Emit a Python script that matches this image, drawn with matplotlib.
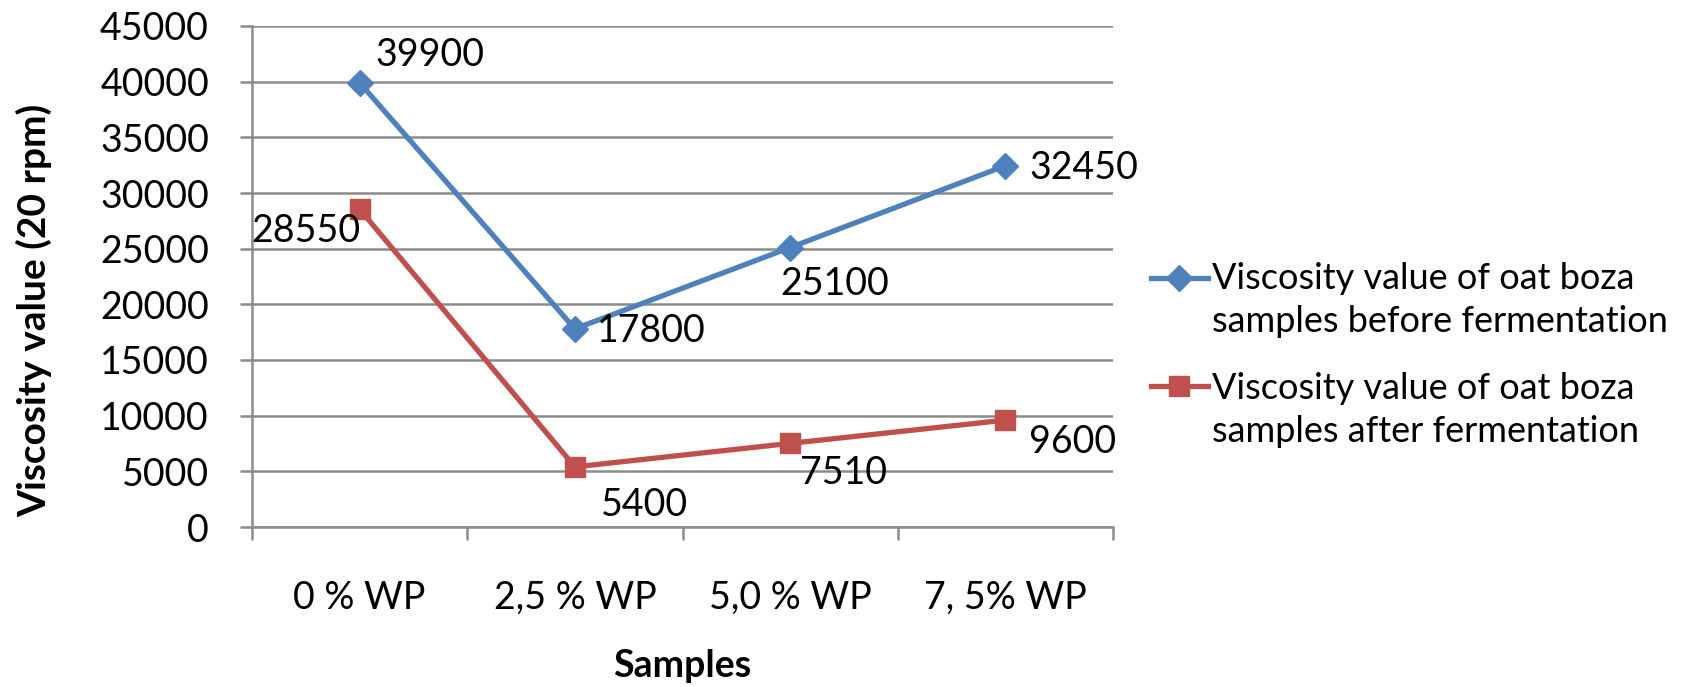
import numpy as np
import matplotlib
matplotlib.use("Agg")
import matplotlib.pyplot as plt
from matplotlib.lines import Line2D

plt.rcParams['font.family'] = ['Lato', 'DejaVu Sans']

samples = ['0 % WP', '2,5 % WP', '5,0 % WP', '7, 5% WP']
before = [39900, 17800, 25100, 32450]
after = [28550, 5400, 7510, 9600]
labels = ['Viscosity value of oat boza\nsamples before fermentation',
          'Viscosity value of oat boza\nsamples after fermentation']

blue = '#4F81BD'
red = '#C0504D'
grid_c = '#8C8C8C'

# label offsets in pixels (dx, dy) and alignment per point
before_off = [(16, 28, 'left'), (22, -2, 'left'), (-10, -36, 'left'), (24, -2, 'left')]
after_off = [(1, -22, 'right'), (26, -38, 'left'), (10, -30, 'left'), (24, -22, 'left')]

W, H = 1694, 687
fig = plt.figure(figsize=(W / 100, H / 100), dpi=100)
ax = fig.add_axes([252 / W, 1 - 527 / H, (1113 - 252) / W, (527 - 26) / H])

lw = 3.8
x = np.arange(len(samples))
ax.plot(x, before, color=blue, lw=lw, marker='D', ms=13, zorder=3)
ax.plot(x, after, color=red, lw=lw, marker='s', ms=14, zorder=3)

fs = 27
for xi, v, (dx, dy, ha) in zip(x, before, before_off):
    ax.annotate(str(v), (xi, v), xytext=(dx, dy), textcoords='offset pixels',
                ha=ha, va='center', fontsize=fs)
for xi, v, (dx, dy, ha) in zip(x, after, after_off):
    ax.annotate(str(v), (xi, v), xytext=(dx, dy), textcoords='offset pixels',
                ha=ha, va='center', fontsize=fs)

ax.set_xlim(-0.5, len(samples) - 0.5)
ax.set_ylim(0, 45000)
ax.set_yticks(np.arange(0, 45001, 5000))
ax.yaxis.grid(True, color=grid_c, lw=1.8)
ax.set_axisbelow(True)

ax.set_xticks(x)
ax.set_xticklabels(samples, fontsize=fs)
ax.set_xticks(np.arange(-0.5, len(samples), 1), minor=True)
ax.tick_params(axis='x', which='major', length=0, pad=38)
ax.tick_params(axis='x', which='minor', length=9, width=1.8, color=grid_c, direction='out')
ax.tick_params(axis='y', length=9, width=1.8, color=grid_c, direction='out', pad=22, labelsize=fs)

for s in ['top', 'right']:
    ax.spines[s].set_visible(False)
for s in ['left', 'bottom']:
    ax.spines[s].set_color(grid_c)
    ax.spines[s].set_linewidth(1.8)

ax.set_ylabel('Viscosity value (20 rpm)', fontsize=28, fontweight='bold')
ax.yaxis.set_label_coords(-0.232, 0.433)
ax.set_xlabel('Samples', fontsize=fs, fontweight='bold', labelpad=24)

# legend drawn by hand so the key sits beside the first text line
keys = [(blue, 'D', 13), (red, 's', 14)]
key_rows = [278, 386]
text_rows = [300, 410]
for (c, m, ms), lab, ky, ty in zip(keys, labels, key_rows, text_rows):
    yf = 1 - ky / H
    fig.add_artist(Line2D([1151 / W, 1208 / W], [yf, yf], color=c, lw=lw,
                          transform=fig.transFigure))
    fig.add_artist(Line2D([1179 / W], [yf], color=c, marker=m, ms=ms,
                          transform=fig.transFigure))
    fig.text(1212 / W, 1 - ty / H, lab, fontsize=26, ha='left', va='center',
             linespacing=1.38)

fig.savefig('out.png', dpi=100)
